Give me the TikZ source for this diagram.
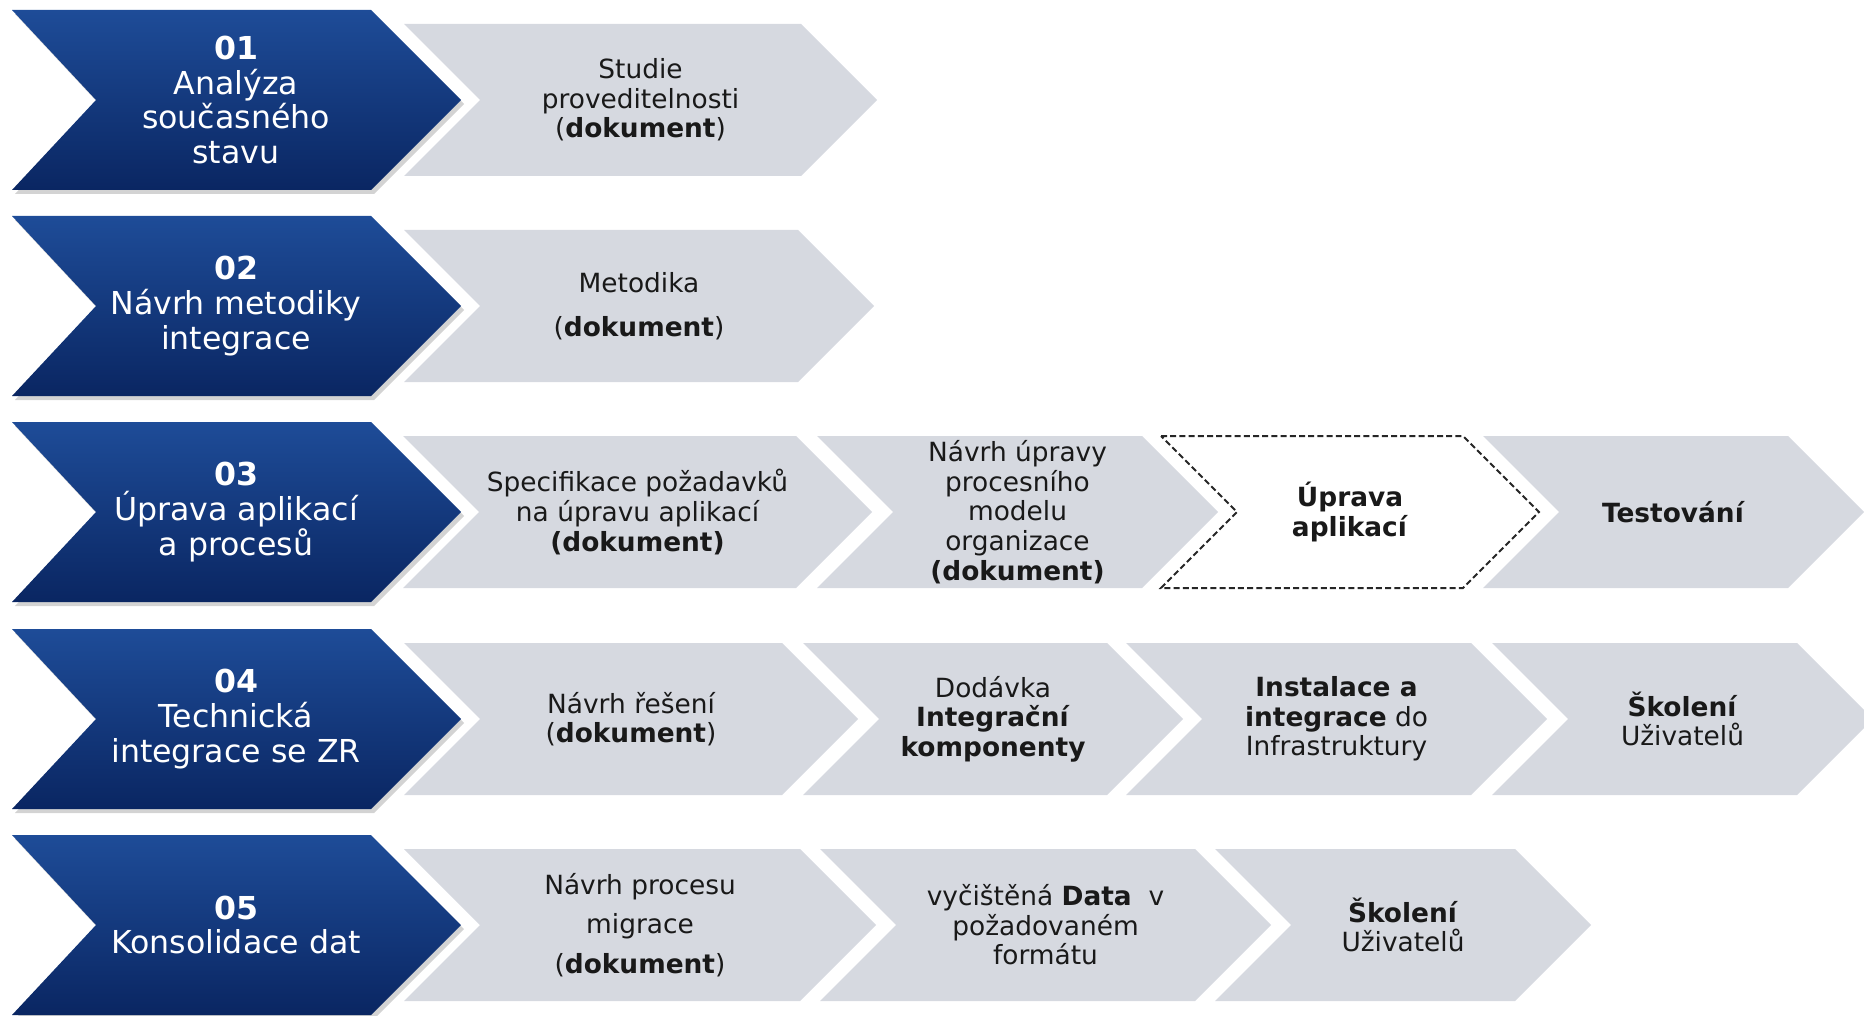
\documentclass[tikz,border=0pt]{standalone}
\usepackage{fontspec}
\setmainfont{DejaVu Sans}
\usetikzlibrary{shadows}

\definecolor{phasetop}{RGB}{30,76,152}
\definecolor{phasebottom}{RGB}{10,38,98}
\definecolor{delivgray}{RGB}{214,217,224}

% blue phase chevron: name, mid line, text
\newcommand{\phasestep}[3]{%
  \path[phase] (12,{#2-90}) -- (371,{#2-90}) -- (461,#2) -- (371,{#2+90})
    -- (12,{#2+90}) -- (96,#2) -- cycle;
  \node[phase text] (#1) at (236,#2) {#3};}
% gray deliverable chevron: [style] name, left, tip, mid line, text
\newcommand{\delivstep}[6][deliv]{%
  \path[#1] (#3,{#5-76}) -- ({#4-76},{#5-76}) -- (#4,#5) -- ({#4-76},{#5+76})
    -- (#3,{#5+76}) -- ({#3+76},#5) -- cycle;
  \node[deliv text] (#2) at ({(#3+#4)/2},#5) {#6};}

\begin{document}
\begin{tikzpicture}[x=0.5pt,y=-0.5pt,
    phase/.style={top color=phasetop,bottom color=phasebottom,
      drop shadow={opacity=0.35,shadow xshift=1.5pt,shadow yshift=-2pt}},
    deliv/.style={fill=delivgray},
    planned/.style={fill=white,draw=black!85,line width=1pt,dash pattern=on 3pt off 1.6pt},
    phase text/.style={text=white,align=center,font=\fontsize{15.8}{17.3}\selectfont},
    deliv text/.style={text=black!90,align=center,font=\fontsize{13.2}{14.8}\selectfont}]

  \useasboundingbox (0,0) rectangle (1864,1016);

  % 01
  \phasestep{1}{100}{\textbf{01}\\Analýza\\současného\\stavu}
  \delivstep{1a}{404}{877}{100}{Studie\\proveditelnosti\\(\textbf{dokument})}

  % 02
  \phasestep{2}{306}{\textbf{02}\\Návrh metodiky\\integrace}
  \delivstep{2a}{404}{874}{306}{Metodika\\[7pt](\textbf{dokument})}

  % 03
  \phasestep{3}{512}{\textbf{03}\\Úprava aplikací\\a procesů}
  \delivstep{3a}{403}{872}{512}{Specifikace požadavků\\na úpravu aplikací\\\textbf{(dokument)}}
  \delivstep{3b}{817}{1218}{512}{Návrh úpravy\\procesního\\modelu\\organizace\\\textbf{(dokument)}}
  \delivstep[planned]{3c}{1161}{1539}{512}{\textbf{Úprava}\\\textbf{aplikací}}
  \delivstep{3d}{1483}{1864}{512}{\textbf{Testování}}

  % 04
  \phasestep{4}{719}{\textbf{04}\\Technická\\integrace se ZR}
  \delivstep{4a}{404}{858}{719}{Návrh řešení\\(\textbf{dokument})}
  \delivstep{4b}{803}{1183}{719}{Dodávka\\\textbf{Integrační}\\\textbf{komponenty}}
  \delivstep{4c}{1126}{1547}{719}{\textbf{Instalace a}\\\textbf{integrace} do\\Infrastruktury}
  \delivstep{4d}{1492}{1873}{719}{\textbf{Školení}\\Uživatelů}

  % 05
  \phasestep{5}{925}{\textbf{05}\\Konsolidace dat}
  \delivstep{5a}{404}{876}{925}{Návrh procesu\\[5pt]migrace\\[5pt](\textbf{dokument})}
  \delivstep{5b}{820}{1271}{925}{vyčištěná \textbf{Data}\ \ v\\požadovaném\\formátu}
  \delivstep{5c}{1215}{1591}{925}{\textbf{Školení}\\Uživatelů}
\end{tikzpicture}
\end{document}
